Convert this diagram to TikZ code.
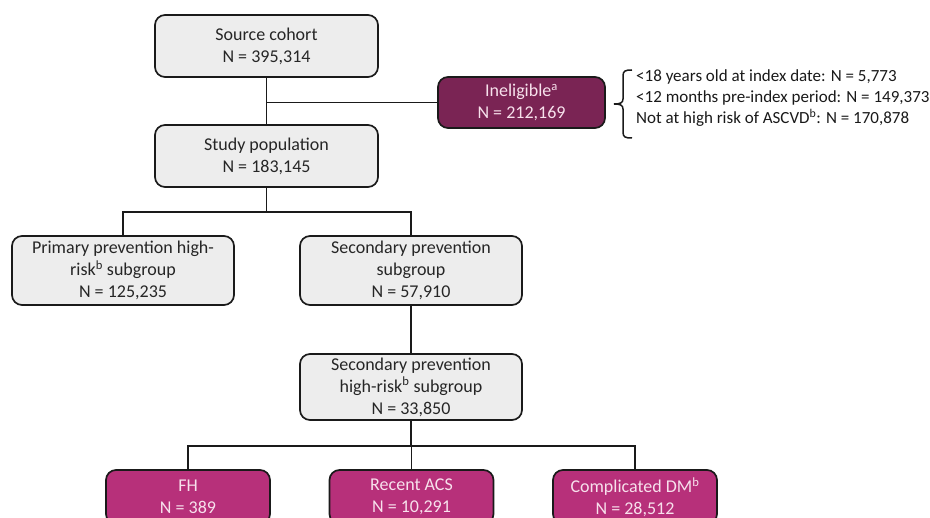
\documentclass[tikz,border=0pt]{standalone}
\usepackage{fontspec}
\setmainfont{Carlito}
\definecolor{boxgray}{HTML}{EDEDED}
\definecolor{inelfill}{HTML}{7A2454}
\definecolor{subfill}{HTML}{B7307A}
\definecolor{lighttext}{HTML}{F7E1EC}
\definecolor{darkline}{HTML}{1A1A1A}
\begin{document}
\begin{tikzpicture}[x=1pt,y=-1pt,
  basebox/.style={draw=darkline, line width=1.7pt, rounded corners=10pt, align=center, inner sep=0pt,
    font=\fontsize{18}{22}\selectfont},
  graybox/.style={basebox, fill=boxgray, text=black!85},
  inelbox/.style={basebox, fill=inelfill, text=lighttext},
  subbox/.style={basebox, fill=subfill, text=lighttext, minimum width=164pt, minimum height=54pt},
  conn/.style={draw=darkline, line width=1.9pt},
  notes/.style={align=left, inner sep=0pt, anchor=west, font=\fontsize{17}{21.2}\selectfont, text=black!90}
]
\useasboundingbox (0,0) rectangle (930,518);

\node[graybox, minimum width=223pt, minimum height=62pt] (src) at (266.5,46) {Source cohort\\N = 395,314};
\node[graybox, minimum width=223pt, minimum height=62pt] (study) at (266.5,156) {Study population\\N = 183,145};
\node[inelbox, minimum width=167pt, minimum height=51pt] (inel) at (521.5,102.5) {Ineligible\textsuperscript{a}\\N = 212,169};
\node[graybox, minimum width=222pt, minimum height=69pt] (prim) at (123,270.5) {Primary prevention high-\\risk\textsuperscript{b} subgroup\\N = 125,235};
\node[graybox, minimum width=222pt, minimum height=69pt] (sec) at (411,270.5) {Secondary prevention\\subgroup\\N = 57,910};
\node[graybox, minimum width=222pt, minimum height=66pt] (sechr) at (411,387) {Secondary prevention\\high-risk\textsuperscript{b} subgroup\\N = 33,850};
\node[subbox] (fh) at (188,497) {FH\\N = 389};
\node[subbox] (acs) at (411.5,497) {Recent ACS\\N = 10,291};
\node[subbox] (cdm) at (635,497) {Complicated DM\textsuperscript{b}\\N = 28,512};

\node[notes] (reasons) at (636,98) {<18 years old at index date: N = 5,773\\<12 months pre-index period: N = 149,373\\Not at high risk of ASCVD\textsuperscript{b}: N = 170,878};

% brace
\draw[conn, line width=1.5pt] (632,70) .. controls (625,70) and (623,71) .. (623,76) -- (623,99)
  .. controls (623,103) and (620,104) .. (614,104)
  .. controls (620,104) and (623,105) .. (623,109) -- (623,132)
  .. controls (623,137) and (625,138) .. (632,138);

% connectors
\coordinate (j1) at (src.south |- inel.west);
\coordinate (j2) at (266.5,212);
\coordinate (j3) at (411,446);
\draw[conn] (src.south) -- (study.north);
\draw[conn] (j1) -- (inel.west);
\draw[conn] (study.south) -- (j2);
\draw[conn] (prim.north) |- (j2) -| (sec.north);
\draw[conn] (sec.south) -- (sechr.north);
\draw[conn] (sechr.south) -- (j3);
\draw[conn] (fh.north) |- (j3) -| (cdm.north);
\draw[conn] (acs.north) -- (acs.north |- j3);
\end{tikzpicture}
\end{document}
